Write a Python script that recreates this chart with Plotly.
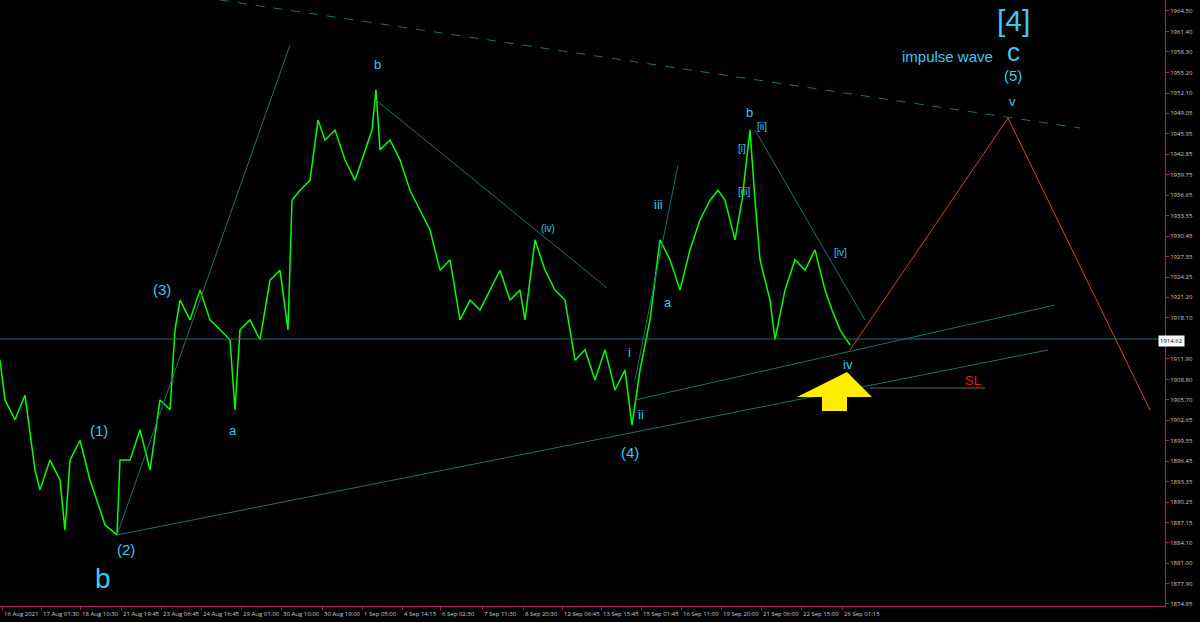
import plotly.graph_objects as go

bar_x = [0,5,15,25,35,40,50,60,65,70,80,90,100,105,117,120,130,140,150,160,170,175,180,190,200,210,220,230,235,240,250,260,270,280,288,292,300,310,318,325,335,345,355,365,372,376,380,390,400,410,420,430,440,450,460,470,480,490,500,510,520,525,535,545,555,565,575,585,595,605,615,625,632,640,650,660,670,680,690,700,710,718,725,735,742,750,755,760,770,775,785,795,805,815,825,832,840,850]
price = [1911.7,1905.7,1902.7,1906.4,1895.1,1892.1,1896.6,1893.6,1886.0,1896.6,1899.6,1893.6,1889.1,1886.8,1885.3,1896.6,1896.6,1901.2,1895.1,1905.7,1904.2,1916.3,1920.8,1917.8,1922.3,1917.8,1916.3,1914.8,1904.2,1916.3,1917.8,1914.8,1923.8,1925.3,1916.3,1935.9,1937.4,1938.9,1948.0,1945.0,1946.5,1942.0,1938.9,1943.5,1946.5,1952.6,1943.5,1945.0,1942.0,1937.4,1934.4,1931.4,1925.3,1926.9,1917.8,1920.8,1919.3,1922.3,1925.3,1920.8,1922.3,1917.8,1929.9,1925.3,1922.3,1920.8,1911.7,1913.3,1908.7,1913.3,1907.2,1910.2,1901.9,1910.2,1917.8,1929.9,1926.9,1922.3,1928.4,1932.9,1935.9,1937.4,1935.9,1929.9,1935.9,1946.5,1935.9,1926.9,1920.8,1914.8,1922.3,1926.9,1925.3,1928.4,1922.3,1919.3,1916.3,1914.0]

tick_pos = [2,41,80,121,161,201,241,281,322,362,402,440,482,523,562,601,641,681,721,761,801,842]
tick_text = ["16 Aug 2021","17 Aug 01:30","18 Aug 10:30","21 Aug 19:45","23 Aug 06:45","24 Aug 16:45","29 Aug 01:00","30 Aug 10:00","30 Aug 19:00","1 Sep 05:00","4 Sep 14:15","6 Sep 02:30","7 Sep 11:30","8 Sep 20:30","12 Sep 06:45","13 Sep 15:45","15 Sep 01:45","16 Sep 11:00","19 Sep 20:00","21 Sep 06:00","22 Sep 15:00","26 Sep 01:15"]
price_ticks = [1964.50,1961.40,1958.30,1955.20,1952.10,1949.05,1945.95,1942.85,1939.75,1936.65,1933.55,1930.45,1927.35,1924.25,1921.20,1918.10,1911.90,1908.80,1905.70,1902.65,1899.55,1896.45,1893.35,1890.25,1887.15,1884.10,1881.00,1877.90,1874.85]
last_price = 1914.62

def P(y):
    return 1966.16 - y * 0.15118

fig = go.Figure()
fig.add_trace(go.Scatter(x=bar_x, y=price, mode="lines", line=dict(color="#00ff00", width=1.5), hoverinfo="skip"))

teal = "#1f6f6f"
lines = [((220,0),(1080,128),teal,"dash"),((117,535),(290,45),teal,"solid"),((376,100),(607,288),teal,"solid"),
         ((117,535),(1048,350),teal,"solid"),((635,400),(1055,305),teal,"solid"),((635,380),(678,165),teal,"solid"),
         ((755,130),(865,320),teal,"solid"),((850,350),(1008,118),"#c0501a","solid"),((1008,118),(1150,410),"#c0501a","solid"),
         ((870,388),(985,388),"#666666","solid"),((0,339),(1165,339),"#1f6f6f","solid")]
for (x0,y0),(x1,y1),c,d in lines:
    fig.add_shape(type="line", x0=x0, y0=P(y0), x1=x1, y1=P(y1), line=dict(color=c, width=1, dash=d))

cy = "#3cc8f0"
labels = [(99,430,"(1)",15),(126,549,"(2)",15),(162,289,"(3)",15),(630,452,"(4)",15),(1013,75,"(5)",15),
          (103,578,"b",28),(233,430,"a",13),(377,64,"b",13),(548,228,"(iv)",10),(658,204,"iii",13),(668,302,"a",13),
          (629,352,"i",13),(641,414,"ii",13),(749,112,"b",13),(762,126,"[ii]",10),(742,148,"[i]",10),(744,191,"[iii]",10),
          (840,252,"[iv]",10),(848,364,"iv",13),(1012,101,"v",13),(1013,52,"c",26),(1013,20,"[4]",30)]
for x,y,t,s in labels:
    fig.add_annotation(x=x, y=P(y), text=t, showarrow=False, font=dict(color=cy, size=s, family="Arial"))
fig.add_annotation(x=947, y=P(56), text="impulse wave", showarrow=False, font=dict(color=cy, size=15, family="Arial"))
fig.add_annotation(x=973, y=P(380), text="SL", showarrow=False, font=dict(color="#e02020", size=13, family="Arial"))
fig.add_annotation(x=1.017, y=last_price, xref="paper", text="1914.62", showarrow=False, bgcolor="white",
                   font=dict(color="black", size=6))
for tp, tt in zip(tick_pos, tick_text):
    fig.add_annotation(x=tp, y=-0.004, yref="paper", yanchor="top", xanchor="left", text=tt,
                       showarrow=False, font=dict(color="#cccccc", size=6))
fig.add_shape(type="path", path=f"M 822,{P(411)} L 822,{P(397)} L 797,{P(397)} L 847,{P(372)} L 872,{P(397)} L 847,{P(397)} L 847,{P(411)} Z",
              fillcolor="#ffee00", line=dict(width=0))

fig.update_layout(width=1200, height=622, paper_bgcolor="black", plot_bgcolor="black", showlegend=False,
                  margin=dict(l=0, r=35, t=0, b=16, autoexpand=False),
                  xaxis=dict(range=[0,1165], tickvals=tick_pos, showticklabels=False, showgrid=False, zeroline=False, automargin=False,
                             linecolor="#aa2266", showline=True, ticks="outside", tickcolor="#aa2266", ticklen=3),
                  yaxis=dict(range=[P(606),P(0)], side="right", tickvals=price_ticks, ticktext=[f"{v:.2f}" for v in price_ticks], automargin=False,
                             showgrid=False, zeroline=False, tickfont=dict(color="#cccccc", size=6), linecolor="#aa2266",
                             showline=True, ticks="outside", tickcolor="#aa2266", ticklen=3))
fig.write_html("out.html", config={"displayModeBar": False},
               post_script="document.body.style.margin='0';document.body.style.background='black';")
